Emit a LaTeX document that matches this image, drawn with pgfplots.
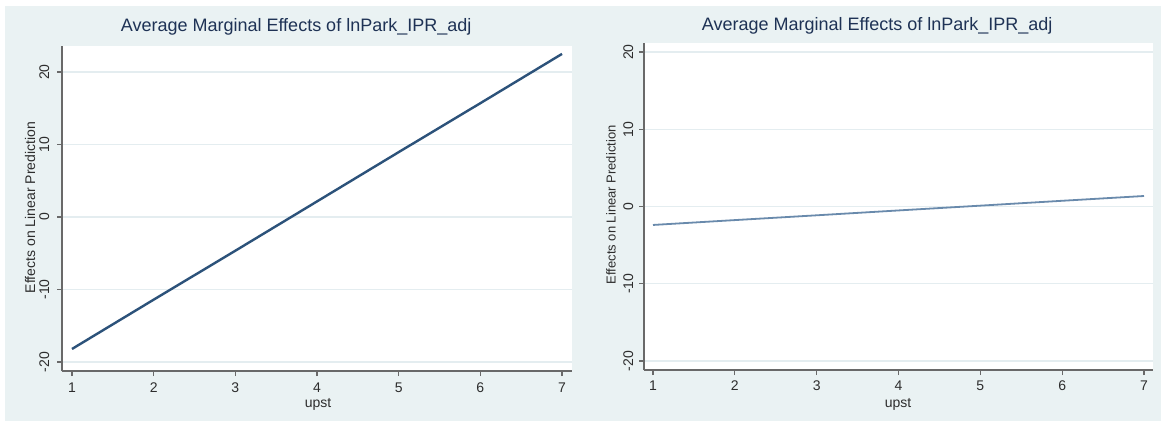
\documentclass[border=0pt]{standalone}
\usepackage{pgfplots}
\pgfplotsset{compat=1.18}
\usepackage{fontspec}
\setmainfont{Liberation Sans}
\definecolor{stbg}{RGB}{234,242,243}
\definecolor{stgrid}{RGB}{228,237,240}
\definecolor{staxis}{RGB}{105,105,105}
\definecolor{sttitle}{RGB}{30,50,85}
\definecolor{sttext}{RGB}{45,45,45}
\definecolor{stline}{RGB}{44,82,122}
\definecolor{stlineb}{RGB}{105,138,172}
\pgfplotsset{
  stata/.style={
    scale only axis,
    anchor=south west,
    axis x line*=bottom, axis y line*=left,
    axis line style={staxis, line width=1.4pt, -},
    axis background/.style={fill=white},
    tick style={staxis, line width=1.2pt},
    tick align=outside,
    major tick length=5pt,
    xtick={1,2,3,4,5,6,7},
    ytick={-20,-10,0,10,20},
    ymajorgrids,
    major grid style={stgrid, line width=1.2pt},
    /pgf/number format/assume math mode=true,
    ticklabel style={font=\fontsize{14}{16}\selectfont, text=sttext, inner sep=0pt},
    yticklabel style={rotate=90, anchor=base},
    xticklabel style={anchor=north},
    title style={font=\fontsize{18}{20}\selectfont, text=sttitle, anchor=center},
    label style={font=\fontsize{14}{16}\selectfont, text=sttext, anchor=center},
  }
}
\begin{document}
\begin{tikzpicture}[x=1pt,y=1pt]
\useasboundingbox (0pt,0pt) rectangle (1161pt,421pt);
\fill[white] (0pt,0pt) rectangle (1161pt,421pt);
\fill[stbg] (5pt,0pt) rectangle (1161pt,415pt);
% left panel
\begin{axis}[stata,
  at={(62pt,50pt)}, width=510pt, height=325pt,
  xmin=0.8776, xmax=7.1224, ymin=-21.24, ymax=23.59,
  yticklabel shift=8pt, xticklabel shift=7pt,
  title={Average Marginal Effects of lnPark\_IPR\_adj},
  title style={at={(axis description cs:0.459,1.04)}},
  ylabel={Effects on Linear Prediction},
  ylabel style={at={(axis description cs:-0.0627,0.503)}},
  xlabel={upst},
  xlabel style={at={(axis description cs:0.502,-0.104)}},
]
\addplot[stline, line width=2.4pt] coordinates {
(1,-18.2) (2,-11.4) (3,-4.65) (4,2.15) (5,8.95) (6,15.7) (7,22.5)};
\end{axis}
% right panel
\begin{axis}[stata,
  at={(644pt,51pt)}, width=509pt, height=327pt,
  xmin=0.89, xmax=7.11, ymin=-21.17, ymax=21.17,
  yticklabel shift=6pt, xticklabel shift=6pt,
  title={Average Marginal Effects of lnPark\_IPR\_adj},
  title style={at={(axis description cs:0.458,1.034)}},
  ylabel={Effects on Linear Prediction},
  ylabel style={at={(axis description cs:-0.0648,0.505)}, font=\fontsize{13}{15}\selectfont},
  xlabel={upst},
  xlabel style={at={(axis description cs:0.499,-0.104)}},
]
\addplot[stlineb, line width=1.8pt] coordinates {
(1,-2.39) (2,-1.76) (3,-1.14) (4,-0.51) (5,0.11) (6,0.74) (7,1.36)};
\end{axis}
\end{tikzpicture}
\end{document}
